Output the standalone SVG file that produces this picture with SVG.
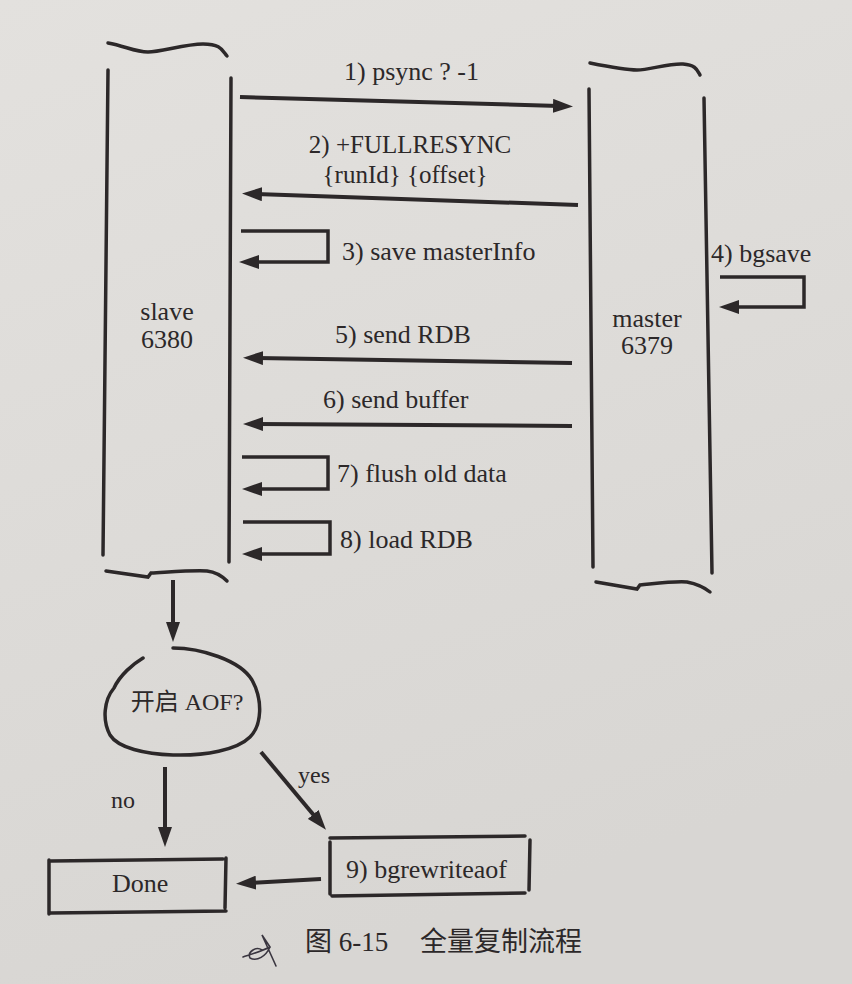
<svg xmlns="http://www.w3.org/2000/svg" width="852" height="984" viewBox="0 0 852 984">
<defs>
<linearGradient id="paper" x1="0" y1="0" x2="0.3" y2="1">
<stop offset="0" stop-color="#e3e1de"/>
<stop offset="1" stop-color="#d8d6d3"/>
</linearGradient>
<marker id="ah" viewBox="0 0 20 14" markerWidth="20" markerHeight="14" refX="6" refY="7" orient="auto" markerUnits="userSpaceOnUse">
<path d="M0,0 L20,7 L0,14 z" fill="#2c2829"/>
</marker>
<style>
.ln{fill:none;stroke:#2c2829;stroke-width:3.5;stroke-linecap:round;stroke-linejoin:miter}
.ar{fill:none;stroke:#2c2829;stroke-width:4;stroke-linecap:butt;marker-end:url(#ah)}
.lp{fill:none;stroke:#2c2829;stroke-width:3.5;stroke-linecap:butt;stroke-linejoin:miter;marker-end:url(#ah)}
.t{font-family:"Liberation Serif","Noto Sans CJK SC",serif;font-size:26px;fill:#2c2829}
.c{text-anchor:middle}
.cj{font-family:"Noto Sans CJK SC","Liberation Serif",sans-serif;font-size:27px;fill:#2c2829}
</style>
</defs>
<rect width="852" height="984" fill="url(#paper)"/>

<g id="slave">
<path class="ln" d="M108,43 C125,46 135,52 148,52 S185,44 203,44 S222,50 227,56"/>
<path class="ln" d="M108,70 L103,555"/>
<path class="ln" d="M231,78 L229,562"/>
<path class="ln" d="M106,571 L148,577 L151,573 C170,572 195,570 207,571 C215,572 222,576 227,581"/>
<text class="t c" x="167" y="320">slave</text>
<text class="t c" x="167" y="348">6380</text>
</g>

<g id="master">
<path class="ln" d="M590,63 C610,67 625,70 637,70 S670,63 683,64 S697,70 700,75"/>
<path class="ln" d="M589,89 L593,567"/>
<path class="ln" d="M704,98 L712,573"/>
<path class="ln" d="M596,582 L637,589 L640,585 C660,583 675,581 687,582 C697,584 705,588 710,592"/>
<text class="t c" x="647" y="327">master</text>
<text class="t c" x="647" y="354">6379</text>
</g>

<g id="decision">
<path class="ln" d="M173,648 C200,648 240,660 252,680 C263,700 262,725 250,737 C237,750 205,756 173,755 C145,754 118,748 110,735 C102,720 104,700 114,688 C120,675 133,664 143,658"/>
<text class="t c" x="187" y="710" style="font-size:24px">开启 AOF?</text>
</g>

<g id="done">
<path class="ln" d="M51,861 L223,859 M51,913 L226,911 M49,860 L49,914 M226,858 L225,908"/>
<text class="t" x="112" y="892">Done</text>
</g>

<g id="bgrewriteaof">
<path class="ln" d="M330,838 L525,836 M332,896 L525,893 M330,842 L330,894 M530,840 L529,890"/>
<text class="t" x="346" y="878">9) bgrewriteaof</text>
</g>

<g id="connectors">
<path class="ar" d="M240,97 L559,106"/>
<text class="t" x="344" y="80">1) psync ? -1</text>

<path class="ar" d="M578,205 L256,194"/>
<text class="t c" x="410" y="153" style="font-size:25px">2) +FULLRESYNC</text>
<text class="t c" x="405" y="183" style="font-size:25px">{runId} {offset}</text>

<path class="lp" d="M241,231 H328 V262 H253"/>
<text class="t" x="342" y="260">3) save masterInfo</text>

<path class="lp" d="M720,277 H804 V307 H733"/>
<text class="t" x="711" y="262">4) bgsave</text>

<path class="ar" d="M572,363 L257,358"/>
<text class="t" x="335" y="343">5) send RDB</text>

<path class="ar" d="M572,426 L257,424"/>
<text class="t" x="323" y="408">6) send buffer</text>

<path class="lp" d="M242,457 H328 V489 H256"/>
<text class="t" x="337" y="482">7) flush old data</text>

<path class="lp" d="M243,522 H330 V554 H256"/>
<text class="t" x="340" y="548">8) load RDB</text>

<path class="ar" d="M173,580 L173,628"/>

<path class="ar" d="M165,767 L165,833"/>
<text class="t" x="111" y="808" style="font-size:24px">no</text>

<path class="ar" d="M261,752 L317,819"/>
<text class="t" x="298" y="783" style="font-size:24px">yes</text>

<path class="ar" d="M321,879 L250,883"/>
</g>

<g id="caption">
<text class="t" x="305" y="951" style="font-size:27px">图 6-15</text>
<text class="cj" x="420" y="951">全量复制流程</text>
<path d="M243,957 C252,954 262,951 270,947 L262,935 L276,966 M270,947 C266,956 257,962 250,958 C247,952 256,946 262,950" fill="none" stroke="#3a3640" stroke-width="1.6" stroke-linecap="round"/>
</g>
</svg>
